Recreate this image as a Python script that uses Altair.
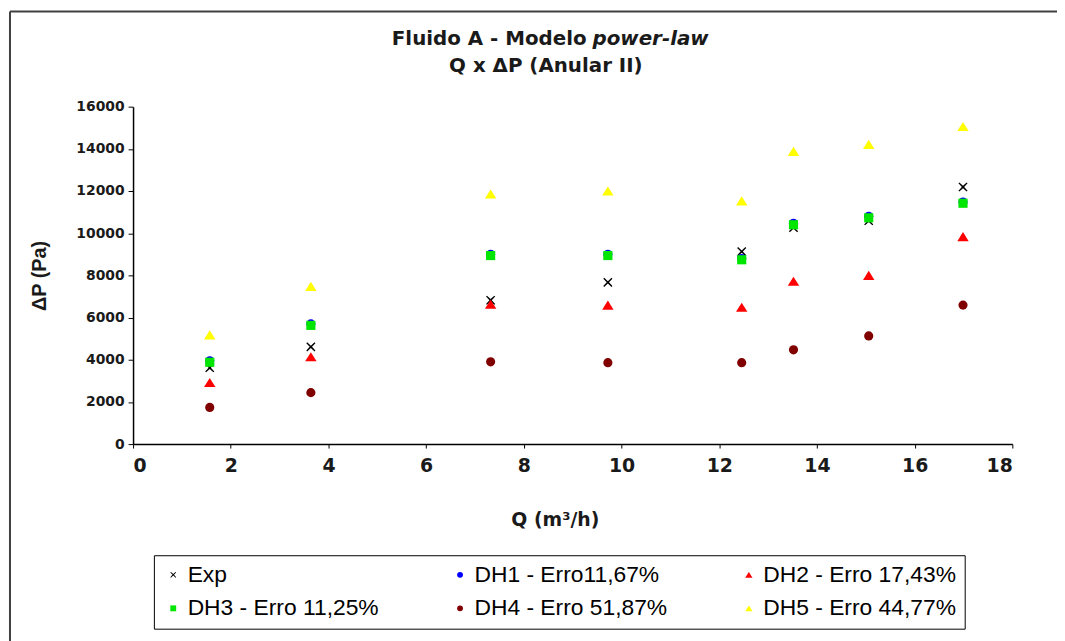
import altair as alt
import pandas as pd

# ---- data ----
q_vals = [1.57, 3.64, 7.32, 9.72, 12.46, 13.52, 15.06, 16.99]
exp_vals = [3620, 4610, 6820, 7670, 9130, 10260, 10590, 12190]
dh1_vals = [3950, 5700, 9000, 9000, 8800, 10470, 10800, 11480]
dh2_vals = [2920, 4140, 6630, 6590, 6490, 7720, 8000, 9840]
dh3_vals = [3880, 5630, 8940, 8940, 8740, 10400, 10730, 11420]
dh4_vals = [1740, 2440, 3900, 3860, 3860, 4470, 5130, 6590]
dh5_vals = [5180, 7480, 11860, 12000, 11530, 13880, 14210, 15060]

series_names = ["Exp", "DH1 - Erro11,67%", "DH2 - Erro 17,43%",
                "DH3 - Erro 11,25%", "DH4 - Erro 51,87%", "DH5 - Erro 44,77%"]
series_vals = [exp_vals, dh1_vals, dh2_vals, dh3_vals, dh4_vals, dh5_vals]
series_colors = ["#000000", "#0000ff", "#ff0000", "#00e600", "#800000", "#ffff00"]
x_shape = "M-1,-0.8L-0.8,-1L0,-0.25L0.8,-1L1,-0.8L0.25,0L1,0.8L0.8,1L0,0.25L-0.8,1L-1,0.8L-0.25,0Z"
tri_shape = "M0,-1L1.25,1L-1.25,1Z"
series_shapes = [x_shape, "circle", tri_shape, "square", "circle", tri_shape]

x_ticks = list(range(0, 19, 2))
y_ticks = list(range(0, 16001, 2000))

rows = []
for name, vals in zip(series_names, series_vals):
    for qv, pv in zip(q_vals, vals):
        rows.append({"Q": qv, "dP": pv, "Serie": name})
df = pd.DataFrame(rows)

points = alt.Chart(df).mark_point(filled=True, size=85, opacity=1).encode(
    x=alt.X("Q:Q", scale=alt.Scale(domain=[0, 18], nice=False),
            axis=alt.Axis(values=x_ticks, title="Q (m³/h)", titleX=425)),
    y=alt.Y("dP:Q", scale=alt.Scale(domain=[0, 16000], nice=False),
            axis=alt.Axis(values=y_ticks, format="d", title="ΔP (Pa)")),
    color=alt.Color("Serie:N", scale=alt.Scale(domain=series_names, range=series_colors),
                    legend=alt.Legend(title=None, orient="none", legendX=21, legendY=452,
                                      direction="horizontal",
                                      columns=3, columnPadding=70, rowPadding=10,
                                      padding=8, strokeColor="#000000",
                                      symbolSize=35, symbolOffset=0,
                                      labelFont="Liberation Sans", labelFontSize=23,
                                      labelColor="#000000", labelLimit=400, labelOffset=3)),
    shape=alt.Shape("Serie:N", scale=alt.Scale(domain=series_names, range=series_shapes)),
    order=alt.Order("idx:Q"),
).transform_calculate(
    idx="indexof(" + str(series_names).replace("'", '"') + ", datum.Serie)"
)

title1_df = pd.DataFrame({"t": ["Fluido A - Modelo"]})
title1b_df = pd.DataFrame({"t": ["power-law"]})
title2_df = pd.DataFrame({"t": ["Q x ΔP (Anular II)"]})

t1 = alt.Chart(title1_df).mark_text(font="DejaVu Sans", fontWeight="bold", fontSize=20,
                                    align="right", baseline="middle", color="#1a1a1a").encode(
    text="t:N", x=alt.value(457), y=alt.value(-68))
t1b = alt.Chart(title1b_df).mark_text(font="DejaVu Sans", fontWeight="bold", fontStyle="italic",
                                      fontSize=20, align="left", baseline="middle",
                                      color="#1a1a1a").encode(
    text="t:N", x=alt.value(463), y=alt.value(-68))
t2 = alt.Chart(title2_df).mark_text(font="DejaVu Sans", fontWeight="bold", fontSize=20,
                                    align="center", baseline="middle", color="#1a1a1a").encode(
    text="t:N", x=alt.value(416), y=alt.value(-41))

frame_df = pd.DataFrame({"k": [0]})
frame_top = alt.Chart(frame_df).mark_rule(color="#404040", strokeWidth=2).encode(
    x=alt.value(-124), x2=alt.value(935), y=alt.value(-96))
frame_left = alt.Chart(frame_df).mark_rule(color="#404040", strokeWidth=2).encode(
    x=alt.value(-124), y=alt.value(-96), y2=alt.value(540))

chart = alt.layer(points, t1, t1b, t2, frame_top, frame_left).properties(
    width=886, height=340,
    autosize=alt.AutoSizeParams(type="none"),
    padding={"left": 126, "top": 97, "right": 45, "bottom": 196},
).configure_view(stroke=None).configure_axis(
    grid=False, domainColor="#000000", domainWidth=1.5, tickColor="#000000",
    labelColor="#1a1a1a", titleColor="#1a1a1a",
).configure_axisY(
    labelFont="DejaVu Sans", labelFontWeight="bold", labelFontSize=14, tickSize=5, labelPadding=4,
    titleFont="Liberation Sans", titleFontWeight="bold", titleFontSize=20, titlePadding=27,
).configure_axisX(
    labelFont="DejaVu Sans", labelFontWeight="bold", labelFontSize=19, tickSize=4, labelPadding=9,
    titleFont="DejaVu Sans", titleFontWeight="bold", titleFontSize=19, titlePadding=35,
)

chart.save("out.html", embed_options={"renderer": "svg", "actions": False})
